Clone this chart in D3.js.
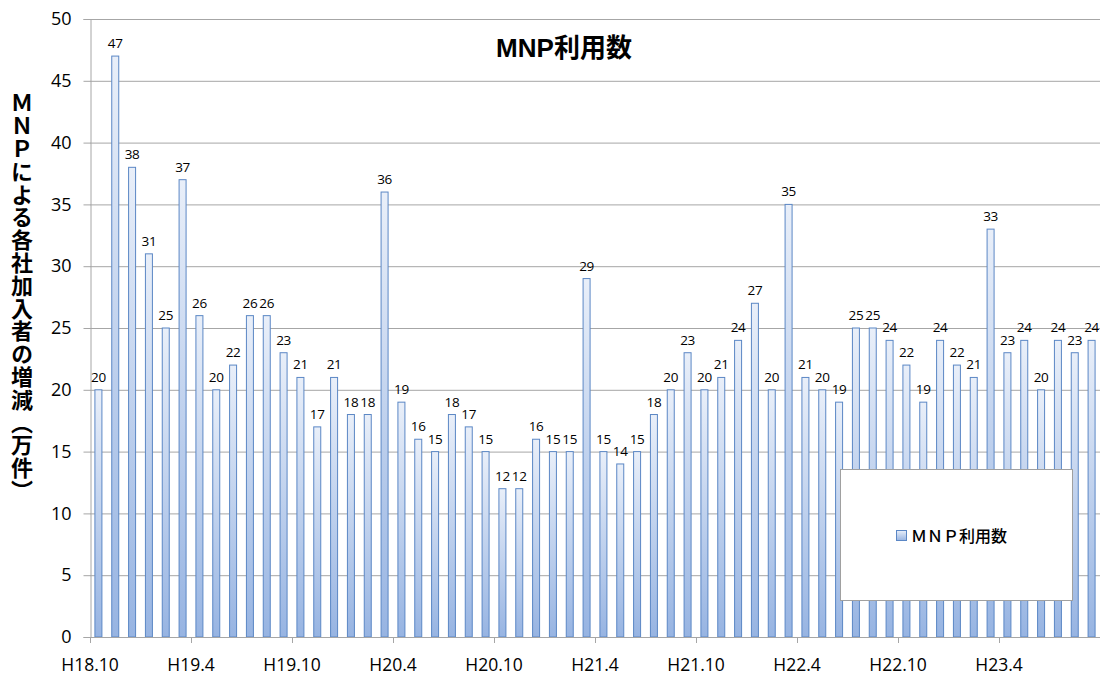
<!DOCTYPE html>
<html><head><meta charset="utf-8">
<script src="https://cdn.jsdelivr.net/npm/d3@7"></script>
<style>body{margin:0;background:#fff}svg{display:block}</style>
</head><body>
<script>
const months = [];
const startYear = 18, startMonth = 10;
const values = [20,47,38,31,25,37,26,20,22,26,26,23,21,17,21,18,18,36,19,16,15,18,17,15,12,12,16,15,15,29,15,14,15,18,20,23,20,21,24,27,20,35,21,20,19,25,25,24,22,19,24,22,21,33,23,24,20,24,23,24];
for (let i = 0; i < values.length; i++) {
  const m = startMonth - 1 + i;
  months.push("H" + (startYear + Math.floor(m / 12)) + "." + (m % 12 + 1));
}
const tickLabels = ["H18.10","H19.4","H19.10","H20.4","H20.10","H21.4","H21.10","H22.4","H22.10","H23.4"];
const yTicks = [0,5,10,15,20,25,30,35,40,45,50];
const title = "MNP利用数";
const yTitle = "ＭＮＰによる各社加入者の増減（万件）";
const legendLabel = "ＭＮＰ利用数";

const W = 1103, H = 678;
const m = {l:90, r:3, t:19, b:41};
const svg = d3.select("body").append("svg").attr("width", W).attr("height", H);
const defs = svg.append("defs");
const g1 = defs.append("linearGradient").attr("id","barGrad").attr("x1",0).attr("y1",0).attr("x2",0).attr("y2",1);
g1.append("stop").attr("offset","0%").attr("stop-color","#e9eff9");
g1.append("stop").attr("offset","100%").attr("stop-color","#97b4e2");

const x = d3.scaleBand().domain(months).range([m.l, W - m.r]).paddingInner(0).paddingOuter(0);
const y = d3.scaleLinear().domain([0,50]).range([H - m.b, m.t]);

// gridlines
svg.append("g").selectAll("line").data(yTicks.filter(d=>d>0)).join("line")
  .attr("x1", m.l).attr("x2", W - m.r)
  .attr("y1", d=>y(d)+0.5).attr("y2", d=>y(d)+0.5)
  .attr("stroke","#a6a6a6").attr("stroke-width",1);

// y axis
const yAxis = svg.append("g").attr("transform",`translate(${m.l+0.5},0)`)
  .call(d3.axisLeft(y).tickValues(yTicks).tickSize(7).tickPadding(12));
yAxis.select(".domain").attr("stroke","#a6a6a6");
yAxis.selectAll(".tick line").attr("stroke","#a6a6a6");
yAxis.selectAll("text").attr("font-family","'Open Sans', Lato, sans-serif").attr("font-size",18).attr("fill","#000");

// bars
const bw = 7;
svg.append("g").selectAll("rect").data(values).join("rect")
  .attr("x", (d,i)=> x(months[i]) + x.bandwidth()/2 - bw/2)
  .attr("y", d=> y(d))
  .attr("width", bw)
  .attr("height", d=> y(0) - y(d))
  .attr("fill","url(#barGrad)")
  .attr("stroke","#5b87c5").attr("stroke-width",1);

// data labels
svg.append("g").selectAll("text").data(values).join("text")
  .attr("x", (d,i)=> x(months[i]) + x.bandwidth()/2)
  .attr("y", d=> y(d) - 8)
  .attr("text-anchor","middle")
  .attr("font-family","'Open Sans', Lato, sans-serif").attr("font-size",13.5)
  .attr("letter-spacing",-0.3)
  .attr("fill","#000")
  .text(d=>d);

// x axis
const tickIdx = tickLabels.map(t => months.indexOf(t));
const xg = svg.append("g");
xg.append("line").attr("x1",m.l).attr("x2",W-m.r).attr("y1",y(0)+0.5).attr("y2",y(0)+0.5).attr("stroke","#a6a6a6");
xg.selectAll("line.t").data(tickIdx).join("line").attr("class","t")
  .attr("x1", i=>Math.round(x(months[i]))+0.5).attr("x2", i=>Math.round(x(months[i]))+0.5)
  .attr("y1", y(0)).attr("y2", y(0)+6).attr("stroke","#a6a6a6");
xg.selectAll("text").data(tickIdx).join("text")
  .attr("x", i=>x(months[i])).attr("y", y(0)+34)
  .attr("text-anchor","middle")
  .attr("font-family","'Open Sans', Lato, sans-serif").attr("font-size",17.5).attr("fill","#000")
  .text(i=>months[i]);

// title
svg.append("text").attr("x",564).attr("y",57).attr("text-anchor","middle")
  .attr("font-family","'Liberation Sans','Noto Sans CJK JP',sans-serif").attr("font-weight","bold")
  .attr("font-size",26).attr("fill","#000").text(title);

// y title
svg.append("text").attr("x",22).attr("y",92)
  .style("writing-mode","vertical-rl").style("text-orientation","upright")
  .attr("font-family","'Noto Sans CJK JP',sans-serif").attr("font-weight","bold")
  .attr("font-size",22).attr("letter-spacing",0.8).attr("fill","#000").text(yTitle);

// legend
const lg = svg.append("g");
lg.append("rect").attr("x",840.5).attr("y",469.5).attr("width",232).attr("height",131)
  .attr("fill","#fff").attr("stroke","#a0a0a0").attr("stroke-width",1);
lg.append("rect").attr("x",896.5).attr("y",530.5).attr("width",10).attr("height",10)
  .attr("fill","url(#barGrad)").attr("stroke","#5b87c5");
lg.append("text").attr("x",911).attr("y",542)
  .attr("font-family","'Noto Sans CJK JP',sans-serif")
  .attr("font-size",16).attr("font-weight",500).attr("fill","#000").text(legendLabel);
</script>
</body></html>
